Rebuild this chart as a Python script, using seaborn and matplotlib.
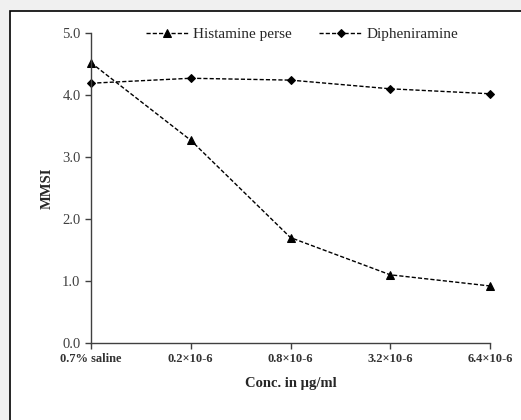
import pandas as pd
import matplotlib.pyplot as plt
import seaborn as sns
from matplotlib.patches import Rectangle

# data
conc_labels = ['0.7% saline', '0.2×10-6', '0.8×10-6', '3.2×10-6', '6.4×10-6']
histamine = [4.52, 3.27, 1.70, 1.10, 0.92]
dipheniramine = [4.19, 4.27, 4.24, 4.10, 4.02]

df = pd.DataFrame({
    'pos': list(range(len(conc_labels))) * 2,
    'MMSI': histamine + dipheniramine,
    'series': ['Histamine perse'] * 5 + ['Dipheniramine'] * 5,
})

sns.set_style('white')
plt.rcParams['font.family'] = ['Liberation Serif', 'DejaVu Serif']

fig = plt.figure(figsize=(5.21, 4.2), dpi=100, facecolor='#f0f0f0')
fig.patches.append(Rectangle((10 / 521, -0.1), 1.2, 1 - 11 / 420 + 0.1,
                             transform=fig.transFigure, facecolor='white',
                             edgecolor='black', linewidth=1.2, zorder=-10))
ax = fig.add_axes([91 / 521, 1 - 343 / 420, (490 - 91) / 521, (343 - 33) / 420])
ax.set_zorder(5)
ax.set_facecolor('white')

sns.lineplot(data=df, x='pos', y='MMSI', hue='series', style='series',
             markers={'Histamine perse': '^', 'Dipheniramine': 'D'},
             dashes={'Histamine perse': (3, 1.5), 'Dipheniramine': (3, 1.5)},
             palette={'Histamine perse': 'black', 'Dipheniramine': 'black'},
             markersize=6, linewidth=1, markeredgecolor='black', ax=ax)
for ln in ax.lines:
    ln.set_clip_on(False)
    if ln.get_marker() == 'D':
        ln.set_markersize(4.5)

ax.set_xlim(0, 4)
ax.set_ylim(0, 5)
ax.set_xticks(range(len(conc_labels)))
ax.set_xticklabels(conc_labels, fontsize=9, fontweight='semibold', color='#333333')
ax.set_yticks([0, 1, 2, 3, 4, 5])
ax.set_yticklabels([f'{v:.1f}' for v in [0, 1, 2, 3, 4, 5]], fontsize=10.5,
                   color='#404040')
ax.tick_params(axis='both', direction='out', length=4, width=1, color='#404040',
               bottom=True, left=True)
for s in ['top', 'right']:
    ax.spines[s].set_visible(False)
for s in ['left', 'bottom']:
    ax.spines[s].set_color('#404040')
    ax.spines[s].set_linewidth(1)

ax.set_xlabel('Conc. in µg/ml', fontsize=10.5, fontweight='bold', labelpad=8)
ax.set_ylabel('MMSI', fontsize=10.5, fontweight='bold', labelpad=6)

handles, labels = ax.get_legend_handles_labels()
ax.legend(handles, labels, loc='center', bbox_to_anchor=(302 / 521, 1 - 34 / 420),
          bbox_transform=fig.transFigure, ncol=2, frameon=False, fontsize=11,
          handlelength=2.8, columnspacing=1.8, handletextpad=0.3)

fig.savefig('out.png', dpi=100, facecolor=fig.get_facecolor())
